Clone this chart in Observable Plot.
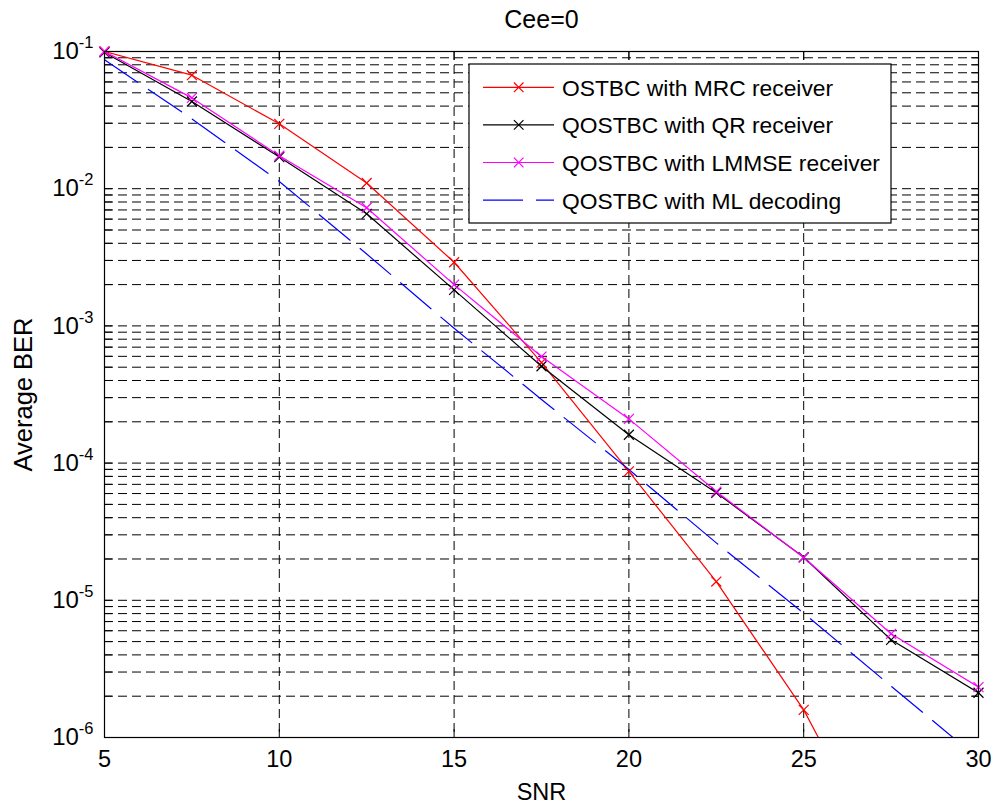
<!DOCTYPE html>
<html><head><meta charset="utf-8">
<script src="https://cdn.jsdelivr.net/npm/d3@7"></script>
<script src="https://cdn.jsdelivr.net/npm/@observablehq/plot@0.6"></script>
<style>body{margin:0;background:#fff;} #chart{position:relative;width:994px;height:807px;}</style>
</head><body><div id="chart"></div>
<script>
// ---- data ----
const snr = [5, 7.5, 10, 12.5, 15, 17.5, 20, 22.5, 25, 27.5, 30];
const berMRC    = [0.1, 0.0672, 0.0297, 0.0110, 0.00291, 0.00054, 8.7e-5, 1.37e-5, 1.59e-6, 1.0e-7, null];
const berQR     = [0.0985, 0.0432, 0.0170, 0.00656, 0.00183, 0.000508, 0.000161, 6.07e-5, 2.06e-5, 5.15e-6, 2.12e-6];
const berLMMSE  = [0.1, 0.0459, 0.0174, 0.00726, 0.00200, 0.000598, 0.000210, 6.2e-5, 2.05e-5, 5.7e-6, 2.33e-6];
const berML     = [0.087, 0.0323, 0.0113, 0.00334, 0.00096, 0.000291, 8.97e-5, 2.62e-5, 8.05e-6, 2.37e-6, 7.0e-7];
const seriesNames = ["OSTBC with MRC receiver", "QOSTBC with QR receiver", "QOSTBC with LMMSE receiver", "QOSTBC with ML decoding"];
const seriesValues = [berMRC, berQR, berLMMSE, berML];
const seriesColors = ["#ff0000", "#000000", "#ff00ff", "#0000ff"];
const seriesMarkers = [true, true, true, false];
const seriesDash = [null, null, null, "40,13"];
const xTicks = [5, 10, 15, 20, 25, 30];
const yTicks = [1e-1, 1e-2, 1e-3, 1e-4, 1e-5, 1e-6];
const yTickExp = ["-1", "-2", "-3", "-4", "-5", "-6"];
const titleText = "Cee=0";
const xLabel = "SNR";
const yLabel = "Average BER";

// grid values (1..9 x 10^k)
const yGrid = [];
for (let k = -6; k <= -1; k++) for (let m = 1; m <= 9; m++) { const v = m * Math.pow(10, k); if (v <= 0.1000001) yGrid.push(v); }

const rows = [];
seriesNames.forEach((s, i) => snr.forEach((x, j) => { const y = seriesValues[i][j]; if (y != null) rows.push({s, i, x, y}); }));
const inDomain = r => r.y >= 1e-6 * 0.999 && r.y <= 0.1 * 1.001;

const font = "'Liberation Sans', Arial, Helvetica, sans-serif";
const W = 994, H = 807, mL = 104, mR = 16, mT = 51, mB = 70;

const plot = Plot.plot({
  width: W, height: H,
  marginLeft: mL, marginRight: mR, marginTop: mT, marginBottom: mB,
  style: {fontFamily: font, fontSize: "23px", color: "#000", background: "#fff", overflow: "visible"},
  x: {domain: [5, 30]},
  y: {type: "log", domain: [1e-6, 1e-1]},
  marks: [
    Plot.ruleY(yGrid, {stroke: "#000", strokeWidth: 1, strokeDasharray: "9,5"}),
    Plot.ruleX(xTicks, {stroke: "#000", strokeWidth: 1, strokeDasharray: "9,5"}),
    Plot.axisX({anchor: "bottom", ticks: xTicks, tickSize: -8, tickFormat: () => "", label: null}),
    Plot.axisX({anchor: "top", ticks: xTicks, tickSize: -8, tickFormat: () => "", label: null}),
    Plot.axisY({anchor: "left", ticks: yGrid, tickSize: -8, tickFormat: () => "", label: null}),
    Plot.axisY({anchor: "right", ticks: yGrid, tickSize: -8, tickFormat: () => "", label: null}),
    Plot.axisX({anchor: "bottom", ticks: xTicks, tickSize: 0, tickPadding: 13, tickFormat: d => String(d), fontSize: 23.5, label: null}),
    Plot.axisY({anchor: "left", ticks: yTicks, tickSize: 0, tickPadding: 11, tickFormat: () => "10", fontSize: 24, label: null}),
    ...seriesNames.map((name, i) => Plot.line(rows.filter(r => r.i === i), {
      x: "x", y: "y", stroke: seriesColors[i], strokeWidth: 1.2, strokeDasharray: seriesDash[i], clip: true
    })),
    ...seriesNames.map((name, i) => seriesMarkers[i] ? Plot.dot(rows.filter(r => r.i === i && inDomain(r)), {
      x: "x", y: "y", symbol: "times", r: 4.6, stroke: seriesColors[i], strokeWidth: 1.2
    }) : null).filter(Boolean),
    Plot.frame({stroke: "#000", strokeWidth: 1.2}),
    Plot.text([titleText], {text: d => d, frameAnchor: "top", dy: -24, lineAnchor: "bottom", fontSize: 25}),
    Plot.text([xLabel], {text: d => d, frameAnchor: "bottom", dy: 62, lineAnchor: "bottom", fontSize: 23.5}),
    Plot.text([yLabel], {text: d => d, frameAnchor: "left", dx: -73, rotate: -90, lineAnchor: "bottom", textAnchor: "middle", fontSize: 25.5})
  ]
});

// superscript exponents on y tick labels
const svg = d3.select(plot);
let k = 0;
svg.selectAll('g[aria-label="y-axis tick label"] text').each(function() {
  if (this.textContent !== "10") return;
  const t = d3.select(this);
  t.append("tspan").attr("dy", -11).attr("font-size", 16.5).text(yTickExp[k++]);
});

// legend
const lg = svg.append("g").attr("font-family", font).attr("font-size", 22.8).attr("text-anchor", "start");
const lx = 469, ly = 64, lw = 422, lh = 159;
lg.append("rect").attr("x", lx).attr("y", ly).attr("width", lw).attr("height", lh).attr("fill", "#fff").attr("stroke", "#000").attr("stroke-width", 1.2);
seriesNames.forEach((name, i) => {
  const cy = 87.3 + i * 37.6;
  lg.append("line").attr("x1", 483).attr("x2", 554).attr("y1", cy).attr("y2", cy)
    .attr("stroke", seriesColors[i]).attr("stroke-width", 1.2).attr("stroke-dasharray", seriesDash[i]);
  if (seriesMarkers[i]) {
    const r = 4.8;
    lg.append("path").attr("d", `M${518.7-r},${cy-r}L${518.7+r},${cy+r}M${518.7-r},${cy+r}L${518.7+r},${cy-r}`)
      .attr("stroke", seriesColors[i]).attr("stroke-width", 1.2).attr("fill", "none");
  }
  lg.append("text").attr("x", 562).attr("y", cy).attr("dy", "0.37em").attr("fill", "#000").attr("text-anchor", "start").text(name);
});

document.getElementById("chart").appendChild(plot);
</script>
</body></html>
